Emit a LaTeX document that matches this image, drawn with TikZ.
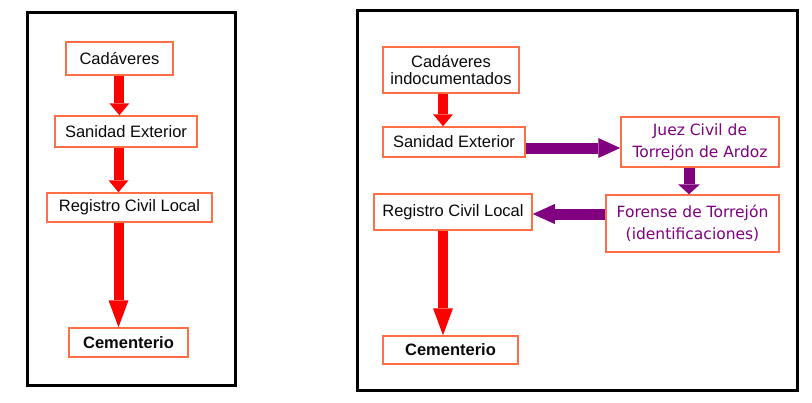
\documentclass[tikz,border=0pt]{standalone}
\usepackage{fontspec}
\setmainfont{Liberation Sans}
\newfontfamily\purplefont{DejaVu Sans}
\usetikzlibrary{arrows.meta}
\definecolor{boxline}{RGB}{255,110,70}
\definecolor{arrred}{RGB}{255,0,0}
\definecolor{arrpurple}{RGB}{128,0,128}
\definecolor{txt}{RGB}{10,10,10}
\begin{document}
\begin{tikzpicture}[x=1pt,y=-1pt,
  box/.style={draw=boxline, line width=1.5pt, fill=white, inner sep=0pt, align=center, text=txt, font=\fontsize{16.5}{17}\selectfont},
  bbox/.style={box, font=\fontsize{16.5}{17}\selectfont\bfseries},
  pbox/.style={box, text=arrpurple, font=\purplefont\fontsize{15.5}{22.5}\selectfont},
  frame/.style={draw=black, line width=3pt},
  redarrow/.style={draw=arrred, line width=10pt, -{Triangle[length=12pt,width=20pt,line width=0pt]}},
  redlong/.style={draw=arrred, line width=10pt, -{Triangle[length=27pt,width=20pt,line width=0pt]}},
  purparrow/.style={draw=arrpurple, line width=11pt, -{Triangle[length=22pt,width=20pt,line width=0pt]}},
  purpshort/.style={draw=arrpurple, line width=11pt, -{Triangle[length=10pt,width=22pt,line width=0pt]}}
]
\useasboundingbox (0,0) rectangle (812,402);
% frames
\draw[frame] (27,12) rectangle (235,385);
\draw[frame] (357,10) rectangle (797,390);
% left diagram
\node[box, minimum width=107pt, minimum height=33pt] (l1) at (119.4,58.5) {Cadáveres};
\node[box, minimum width=142pt, minimum height=31pt] (l2) at (126,131.5) {Sanidad Exterior};
\node[box, minimum width=165pt, minimum height=29pt] (l3) at (129.5,207.5) {Registro Civil Local};
\node[bbox, minimum width=119pt, minimum height=29pt] (l4) at (128.5,342.5) {Cementerio};
\draw[redarrow] (l1.south) -- (l1.south |- l2.north);
\draw[redarrow] ([xshift=-7.5pt]l2.south) -- ([xshift=-7.5pt]l2.south |- l3.north);
\draw[redlong] ([xshift=-11pt]l3.south) -- ([xshift=-11pt]l3.south |- l4.north);
% right diagram
\node[box, minimum width=136pt, minimum height=46pt] (r1) at (451,70) {Cadáveres\\indocumentados};
\node[box, minimum width=142pt, minimum height=30pt] (r2) at (454,142) {Sanidad Exterior};
\node[pbox, minimum width=158pt, minimum height=50pt] (r3) at (700,142) {Juez Civil de\\Torrejón de Ardoz};
\node[pbox, minimum width=173pt, minimum height=57pt] (r4) at (692.5,223.5) {Forense de Torrejón\\(identificaciones)};
\node[box, minimum width=158pt, minimum height=36pt] (r5) at (453,212) {Registro Civil Local};
\node[bbox, minimum width=135pt, minimum height=28pt] (r6) at (450.5,350) {Cementerio};
\draw[redarrow] ([xshift=-8pt]r1.south) -- ([xshift=-8pt]r1.south |- r2.north);
\draw[purparrow] ([yshift=-6pt]r2.east) -- ([yshift=-6pt]r2.east -| r3.west);
\draw[purpshort] ([xshift=-11pt]r3.south) -- ([xshift=-11pt]r3.south |- r4.north);
\draw[purparrow] ([yshift=9.5pt]r4.west) -- ([yshift=9.5pt]r4.west -| r5.east);
\draw[redlong] ([xshift=-10pt]r5.south) -- ([xshift=-10pt]r5.south |- r6.north);
\end{tikzpicture}
\end{document}
